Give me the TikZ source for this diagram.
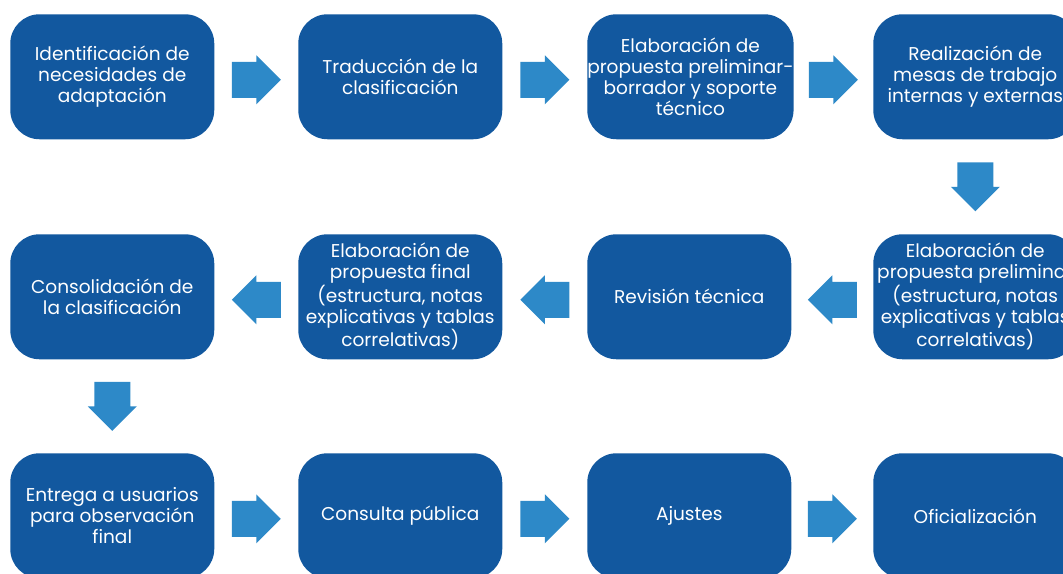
\documentclass[tikz,border=0pt]{standalone}
\usepackage{fontspec}
\setmainfont{Poppins}
\usetikzlibrary{calc}
\definecolor{cajaazul}{HTML}{12589F}
\definecolor{flechaazul}{HTML}{2D89C8}
\tikzset{
	paso/.style = {fill = cajaazul, rounded corners = 22pt, minimum width = 153pt, minimum height = 93.75pt,
		text = white, align = center, inner sep = 0pt, font = \fontsize{13.9}{15.75}\selectfont},
	flecha/.pic = {\fill[flechaazul] (-24.5, -18) -- (0, -18) -- (0, -24.5) -- (24.5, 0) -- (0, 24.5) -- (0, 18) -- (-24.5, 18) -- cycle;}
}
\begin{document}
\begin{tikzpicture}[x = 0.75pt, y = -0.75pt]
	\fill[white] (0, 0) rectangle (1063, 574);
	\clip (0, 0) rectangle (1063, 574);
	\foreach \n/\i/\j/\txt in {p1/10/14/{Identificación de\\necesidades de\\adaptación}, p2/298/14/{Traducción de la\\clasificación},
		p3/587/14/{Elaboración de\\propuesta preliminar-\\borrador y soporte\\técnico}, p4/873/14/{Realización de\\mesas de trabajo\\internas y externas},
		p5/10/234/{Consolidación de\\la clasificación}, p6/298/234/{Elaboración de\\propuesta final\\(estructura, notas\\explicativas y tablas\\correlativas)},
		p7/587/234/{Revisión técnica}, p8/873/234/{Elaboración de\\propuesta preliminar\\(estructura, notas\\explicativas y tablas\\correlativas)},
		p9/10/453/{Entrega a usuarios\\para observación\\final}, p10/298/453/{Consulta pública}, p11/587/453/{Ajustes}, p12/873/453/{Oficialización}}{
		\node[paso, anchor = north west] (\n) at (\i, \j) {\txt};}
	\foreach \a/\b in {p1/p2, p2/p3, p3/p4, p9/p10, p10/p11, p11/p12}{
		\pic at ($(\a.east)!0.5!(\b.west) + (0, 3)$) {flecha};}
	\foreach \a/\b in {p8/p7, p7/p6, p6/p5}{
		\pic[rotate = 180] at ($(\a.west)!0.5!(\b.east) + (0, 3)$) {flecha};}
	\foreach \a/\b in {p4/p8, p5/p9}{
		\pic[rotate = -90] at ($(\a.south)!0.5!(\b.north)$) {flecha};}
\end{tikzpicture}
\end{document}
